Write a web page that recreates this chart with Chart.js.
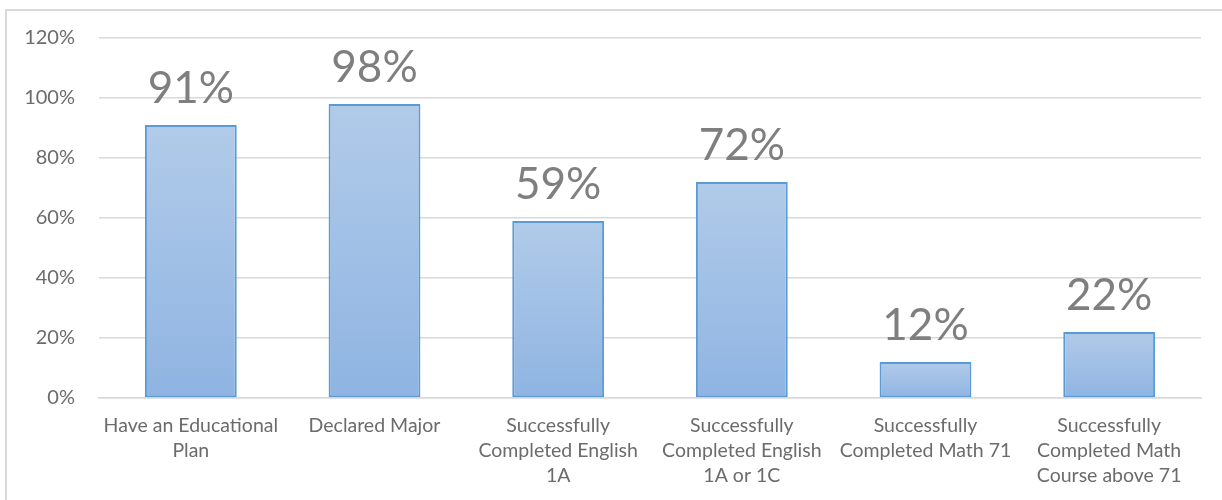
<!DOCTYPE html>
<html>
<head>
<meta charset="utf-8">
<script src="https://cdn.jsdelivr.net/npm/chart.js@4"></script>
<style>
  html, body { margin: 0; padding: 0; background: #fff; overflow: hidden; }
  #wrap { position: relative; width: 1222px; height: 500px; }
  #frame {
    position: absolute; left: 5px; top: 9px; width: 1300px; height: 600px;
    border-top: 2px solid #d9d9d9; border-left: 2px solid #d9d9d9;
    pointer-events: none;
  }
  canvas { position: absolute; left: 0; top: 0; }
</style>
</head>
<body>
<div id="wrap">
  <div id="frame"></div>
  <canvas id="rateChart" width="1222" height="500"></canvas>
</div>
<script>
// ── data ──
const categories = [
  ['Have an Educational', 'Plan'],
  ['Declared Major'],
  ['Successfully', 'Completed English', '1A'],
  ['Successfully', 'Completed English', '1A or 1C'],
  ['Successfully', 'Completed Math 71'],
  ['Successfully', 'Completed Math', 'Course above 71']
];
const rates = [91, 98, 59, 72, 12, 22];
const yTicks = [0, 20, 40, 60, 80, 100, 120];

const FONT = 'Lato, "Open Sans", sans-serif';

// per-bar vertical gradient, lighter at the top
function barFill(ctx) {
  const chart = ctx.chart;
  if (!chart.chartArea || ctx.type !== 'data') return '#9dbde6';
  const y = chart.scales.y;
  const top = y.getPixelForValue(ctx.parsed ? ctx.parsed.y : rates[ctx.dataIndex]);
  const bottom = y.getPixelForValue(0);
  if (!isFinite(top) || !isFinite(bottom) || top === bottom) return '#9dbde6';
  const g = chart.ctx.createLinearGradient(0, top, 0, bottom);
  g.addColorStop(0, '#b1cbe9');
  g.addColorStop(1, '#8fb4e2');
  return g;
}

// big value labels above each bar
const valueLabels = {
  id: 'valueLabels',
  afterDatasetsDraw(chart) {
    const c = chart.ctx;
    const meta = chart.getDatasetMeta(0);
    c.save();
    c.font = '44px ' + FONT;
    c.fillStyle = '#7f7f7f';
    c.textAlign = 'center';
    c.textBaseline = 'alphabetic';
    meta.data.forEach((bar, i) => {
      c.fillText(rates[i] + '%', bar.x, bar.y - 22);
    });
    c.restore();
  }
};

new Chart(document.getElementById('rateChart'), {
  type: 'bar',
  data: {
    labels: categories,
    datasets: [{
      data: rates,
      backgroundColor: barFill,
      borderColor: '#5b9bd5',
      borderWidth: 2,
      borderSkipped: false,
      categoryPercentage: 1,
      barPercentage: 0.5
    }]
  },
  options: {
    responsive: false,
    animation: false,
    devicePixelRatio: 1,
    layout: { padding: { top: 38, right: 21, bottom: 0, left: 0 } },
    plugins: { legend: { display: false }, tooltip: { enabled: false } },
    scales: {
      y: {
        min: 0, max: 120,
        afterBuildTicks: s => { s.ticks = yTicks.map(v => ({ value: v })); },
        afterFit: s => { s.width = 99; },
        ticks: {
          color: '#6b6b6b',
          padding: 24,
          font: { family: FONT, size: 20 },
          callback: v => v + '%'
        },
        grid: { color: '#d9d9d9', lineWidth: 1.5, drawTicks: false },
        border: { display: false }
      },
      x: {
        afterFit: s => { s.height = 102; },
        ticks: {
          color: '#6b6b6b',
          padding: 7,
          maxRotation: 0,
          autoSkip: false,
          font: { family: FONT, size: 19.5, lineHeight: 1.28 }
        },
        grid: { display: false },
        border: { color: '#d9d9d9', width: 1.5 }
      }
    }
  },
  plugins: [valueLabels]
});
</script>
</body>
</html>
